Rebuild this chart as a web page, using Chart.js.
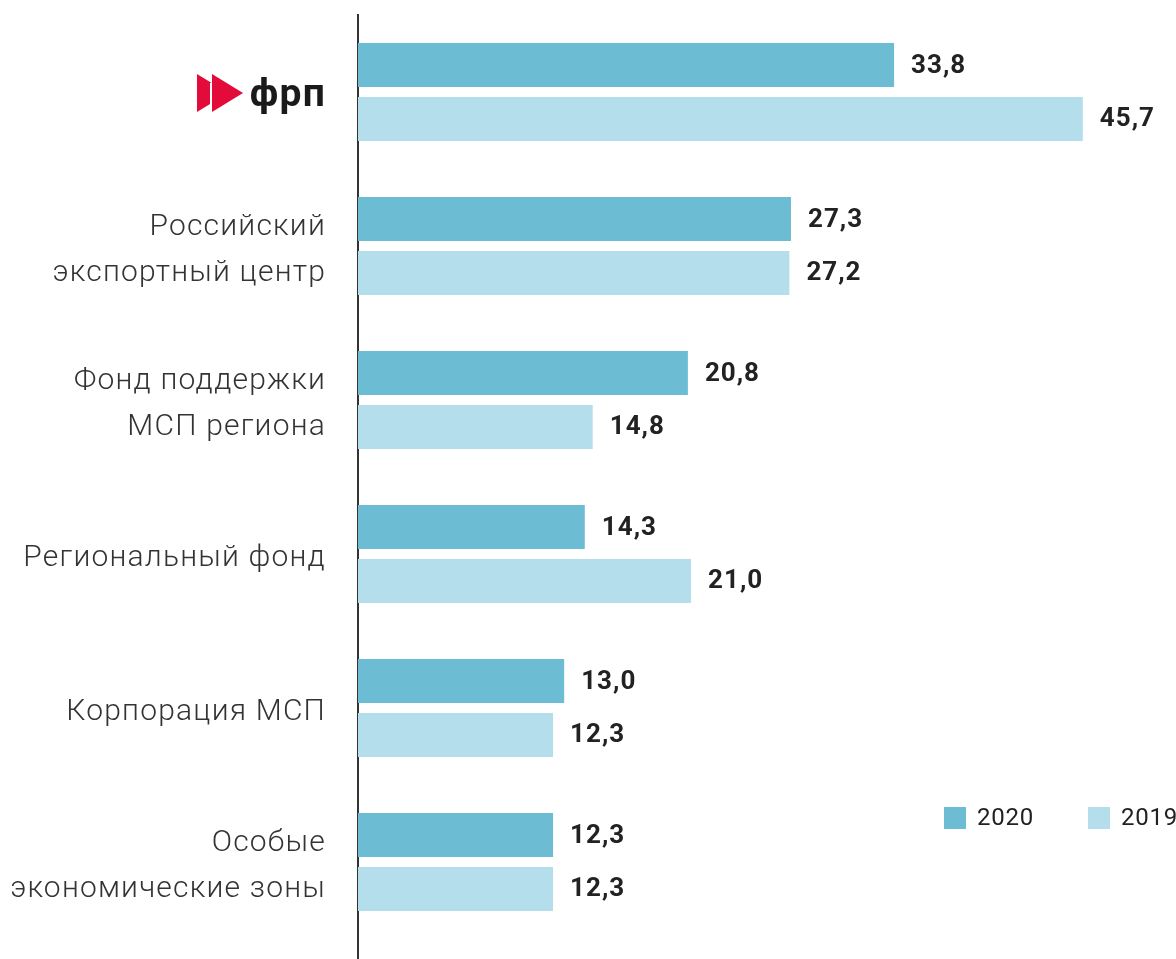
<!DOCTYPE html>
<html>
<head>
<meta charset="utf-8">
<script src="https://cdn.jsdelivr.net/npm/chart.js@4/dist/chart.umd.min.js"></script>
<style>
html,body{margin:0;padding:0;background:#fff;}
#wrap{width:1176px;height:959px;position:relative;}
</style>
</head>
<body>
<div id="wrap"><canvas id="c" width="1176" height="959"></canvas></div>
<script>
const categories = [
  ['фрп'],
  ['Российский', 'экспортный центр'],
  ['Фонд поддержки', 'МСП региона'],
  ['Региональный фонд'],
  ['Корпорация МСП'],
  ['Особые', 'экономические зоны']
];
const values2020 = [33.8, 27.3, 20.8, 14.3, 13.0, 12.3];
const values2019 = [45.7, 27.2, 14.8, 21.0, 12.3, 12.3];
const seriesLabels = ['2020', '2019'];
const colors = ['#6cbdd3', '#b4deeb'];

const FONT = 'Roboto, "Open Sans", sans-serif';

const spacingPlugin = {
  id: 'spacing',
  beforeUpdate(chart) { chart.ctx.letterSpacing = '1.2px'; },
  beforeLayout(chart) { chart.ctx.letterSpacing = '1.2px'; },
  beforeDraw(chart) { chart.ctx.letterSpacing = '1.2px'; }
};

const axisLinePlugin = {
  id: 'axisLine',
  beforeDatasetsDraw(chart) {
    const ctx = chart.ctx, a = chart.chartArea;
    ctx.save();
    ctx.strokeStyle = '#333333';
    ctx.lineWidth = 2;
    ctx.beginPath();
    ctx.moveTo(a.left, a.top - 1);
    ctx.lineTo(a.left, chart.height);
    ctx.stroke();
    ctx.restore();
  }
};

const valueLabelPlugin = {
  id: 'valueLabels',
  afterDatasetsDraw(chart) {
    const ctx = chart.ctx;
    ctx.save();
    ctx.letterSpacing = '1px';
    ctx.font = 'bold 26px ' + FONT;
    ctx.fillStyle = '#222222';
    ctx.textAlign = 'left';
    ctx.textBaseline = 'middle';
    chart.data.datasets.forEach((ds, di) => {
      const meta = chart.getDatasetMeta(di);
      meta.data.forEach((bar, i) => {
        const txt = ds.data[i].toFixed(1).replace('.', ',');
        ctx.fillText(txt, bar.x + 17, bar.y + 1);
      });
    });
    ctx.restore();
  }
};

const logoPlugin = {
  id: 'logo',
  afterDraw(chart) {
    const ctx = chart.ctx;
    const yc = chart.scales.y.getPixelForValue(0) + 1;
    ctx.save();
    ctx.fillStyle = '#e20b3a';
    ctx.beginPath();
    ctx.moveTo(197, yc - 19);
    ctx.lineTo(228, yc);
    ctx.lineTo(197, yc + 19);
    ctx.closePath();
    ctx.fill();
    ctx.strokeStyle = '#ffffff';
    ctx.lineWidth = 2;
    ctx.beginPath();
    ctx.moveTo(211, yc - 10);
    ctx.lineTo(211, yc + 19);
    ctx.stroke();
    ctx.beginPath();
    ctx.moveTo(212, yc - 19);
    ctx.lineTo(243, yc);
    ctx.lineTo(212, yc + 19);
    ctx.closePath();
    ctx.fill();
    ctx.restore();
  }
};

const legendPlugin = {
  id: 'customLegend',
  afterDraw(chart) {
    const ctx = chart.ctx;
    const xs = [944, 1088];
    const y = 807;
    ctx.save();
    ctx.letterSpacing = '0.8px';
    ctx.font = '24px ' + FONT;
    ctx.textBaseline = 'middle';
    ctx.textAlign = 'left';
    chart.data.datasets.forEach((ds, i) => {
      ctx.fillStyle = ds.backgroundColor;
      ctx.fillRect(xs[i], y, 22, 22);
      ctx.fillStyle = '#222222';
      ctx.fillText(ds.label, xs[i] + 33, y + 12);
    });
    ctx.restore();
  }
};

new Chart(document.getElementById('c'), {
  type: 'bar',
  data: {
    labels: categories,
    datasets: [
      { label: seriesLabels[0], data: values2020, backgroundColor: colors[0] },
      { label: seriesLabels[1], data: values2019, backgroundColor: colors[1] }
    ]
  },
  options: {
    indexAxis: 'y',
    responsive: false,
    animation: false,
    devicePixelRatio: 1,
    categoryPercentage: 0.701,
    barPercentage: 0.815,
    layout: { padding: { top: 15, bottom: 20, right: 25, left: 0 } },
    plugins: { legend: { display: false }, tooltip: { enabled: false } },
    scales: {
      x: { display: false, min: 0, max: 50 },
      y: {
        grid: { display: false, drawTicks: false },
        border: { display: false },
        afterFit(scale) { scale.width = 358; scale.paddingTop = 0; scale.paddingBottom = 0; },
        ticks: {
          padding: 32,
          labelOffset: 4,
          color: (c) => c.index === 0 ? '#1a1a1a' : '#333333',
          font: (c) => c.index === 0
            ? { family: FONT, size: 39, weight: 'bold', lineHeight: 1.15 }
            : { family: FONT, size: 30, weight: 300, lineHeight: 46 / 30 }
        }
      }
    }
  },
  plugins: [spacingPlugin, axisLinePlugin, valueLabelPlugin, logoPlugin, legendPlugin]
});
</script>
</body>
</html>
